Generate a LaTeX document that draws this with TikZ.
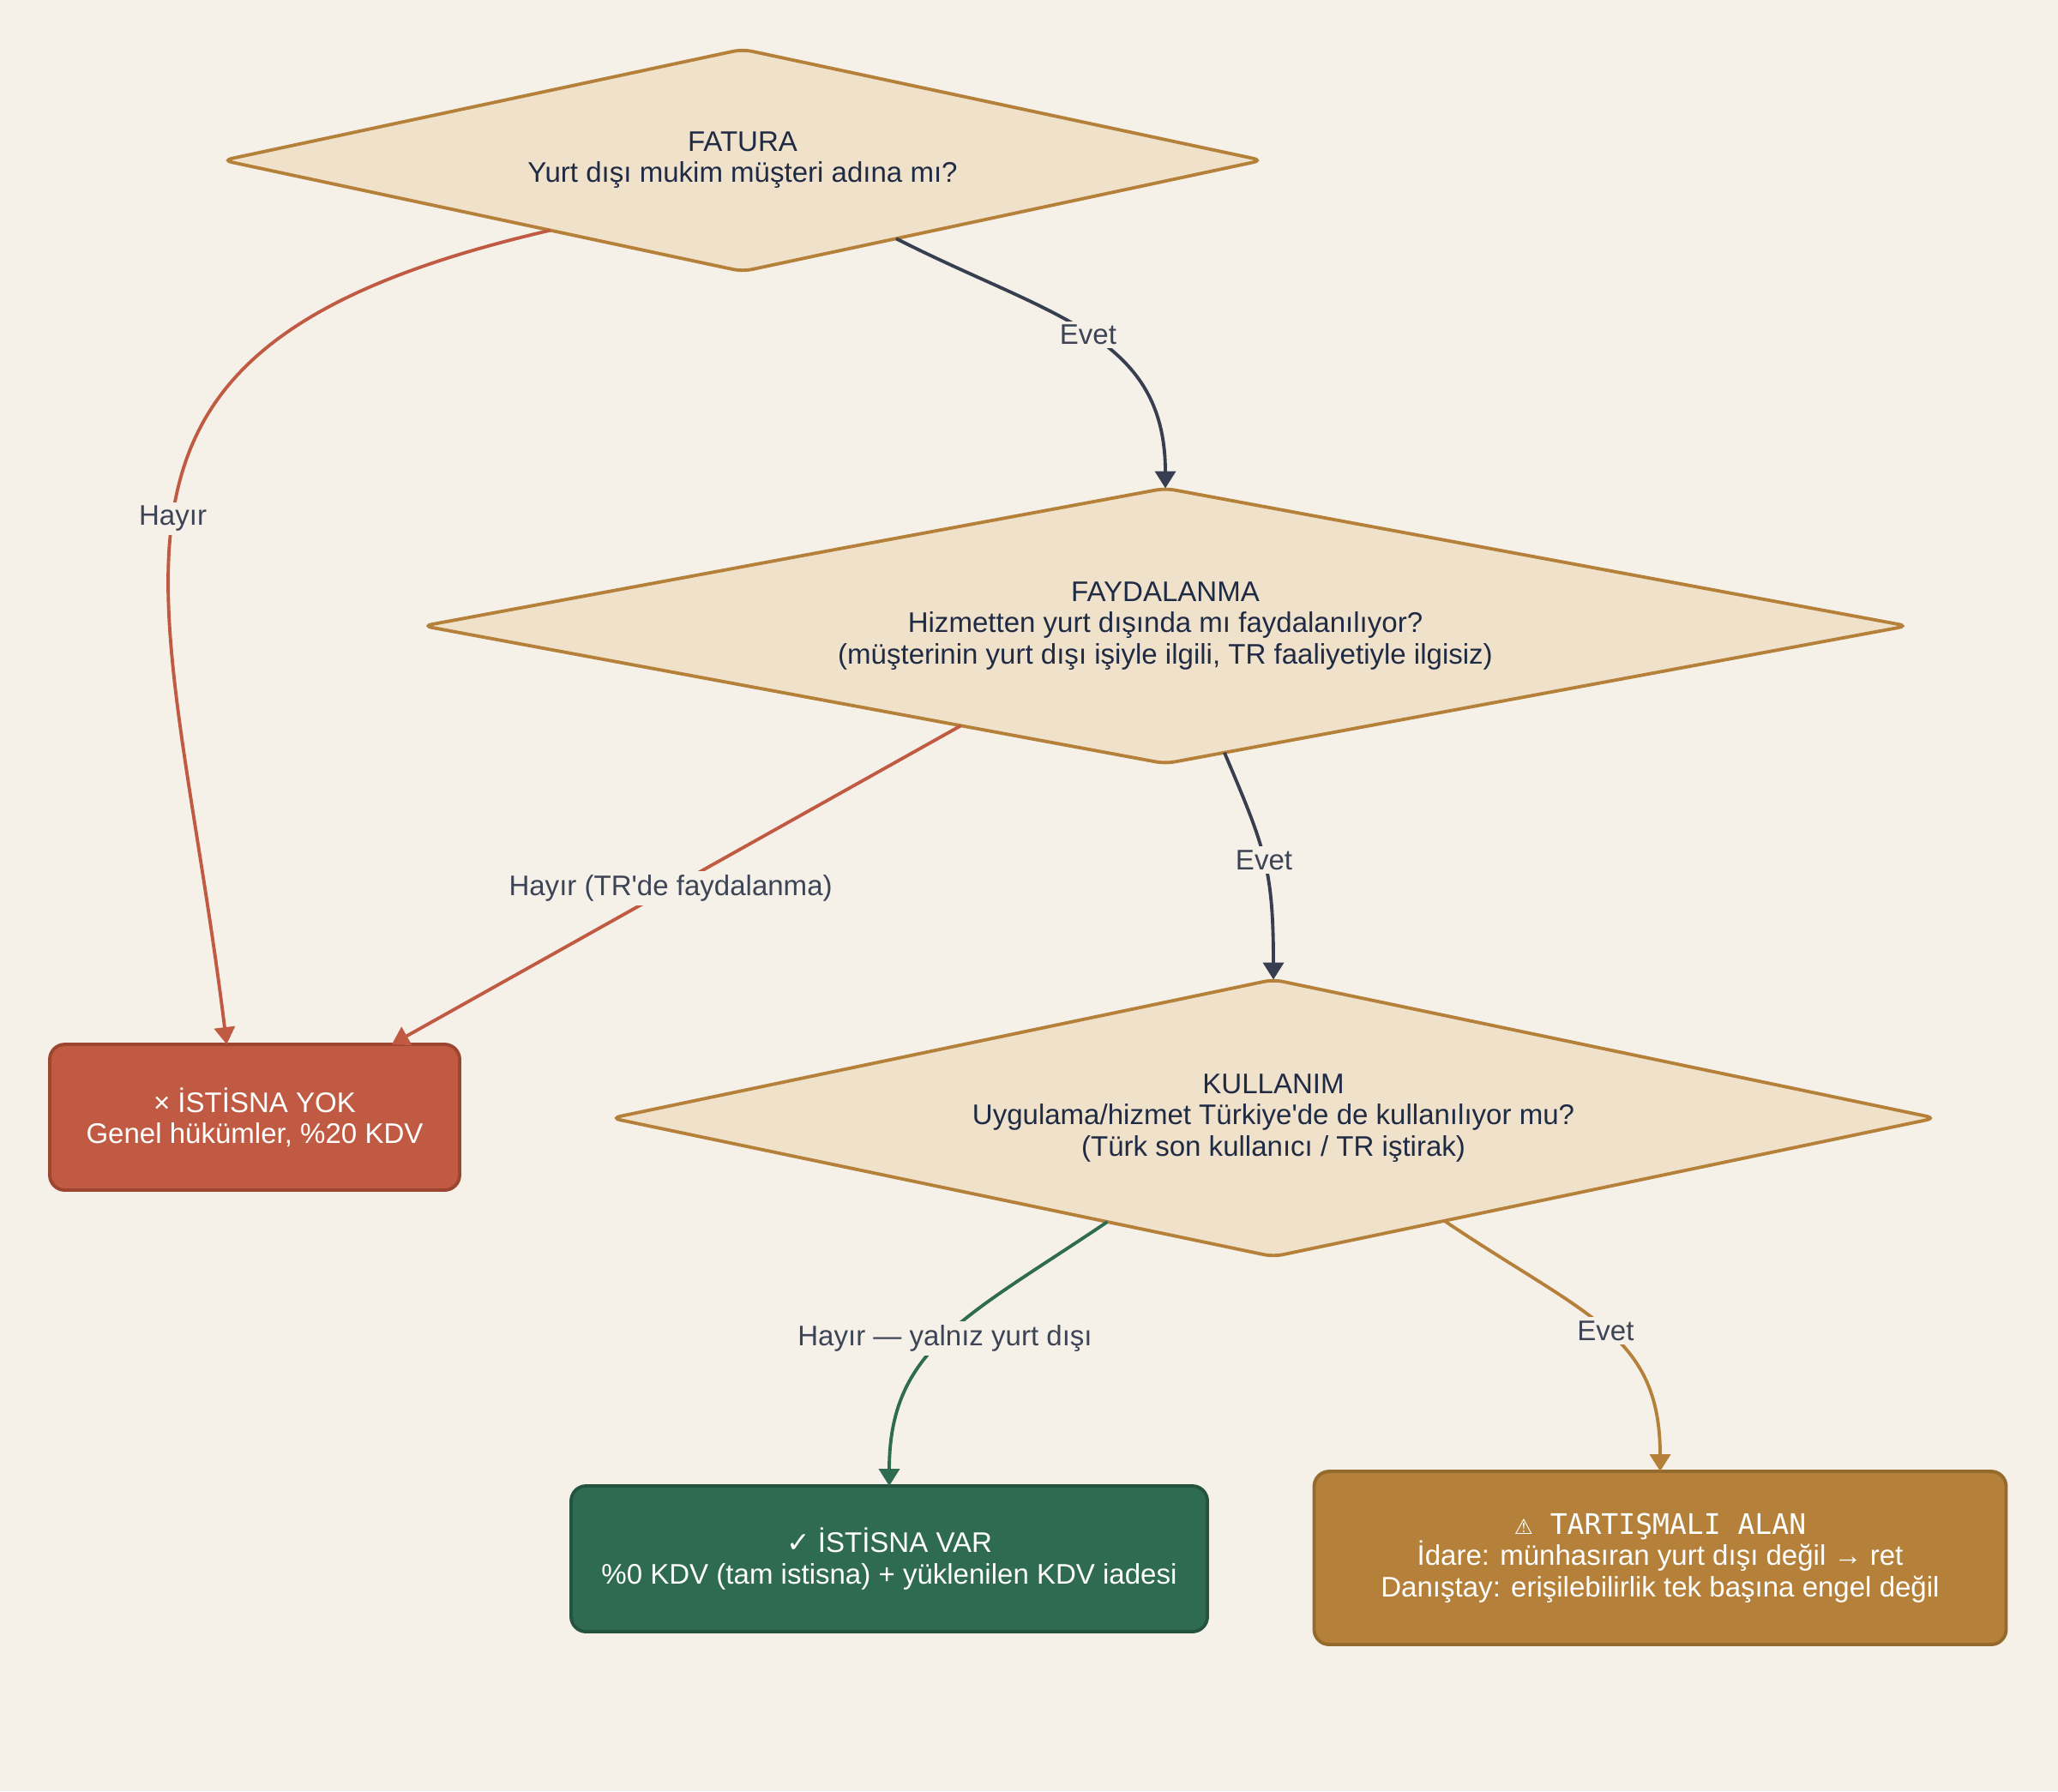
\documentclass[tikz,border=0pt]{standalone}
\usepackage{fontspec}
\setmainfont{Liberation Sans}[Ligatures=TeXOff]
\newfontfamily\dvsans{DejaVu Sans}
\newfontfamily\dvmono{DejaVu Sans Mono}
\usetikzlibrary{arrows.meta, positioning, shapes.geometric}
\definecolor{bg}{HTML}{F5F1E8}
\definecolor{qfill}{HTML}{F0E2CA}
\definecolor{gold}{HTML}{B5813A}
\definecolor{golddark}{HTML}{946A2D}
\definecolor{ink}{HTML}{1F2A44}
\definecolor{slate}{HTML}{363E50}
\definecolor{labelink}{HTML}{3C4455}
\definecolor{rust}{HTML}{C05A42}
\definecolor{rustdark}{HTML}{9C4632}
\definecolor{pine}{HTML}{2E6B50}
\definecolor{pinedark}{HTML}{245440}
\tikzset{
  decision/.style={diamond, aspect=5, draw=gold, fill=qfill, line width=1.1pt, rounded corners=3pt,
    inner sep=0pt, outer sep=0pt, text=ink, align=center, font=\fontsize{9.4}{10.3}\selectfont},
  result/.style={rectangle, rounded corners=5pt, line width=1.1pt, inner sep=0pt, outer sep=0pt,
    text=white, align=center, font=\fontsize{9.4}{10.3}\selectfont},
  arr/.style={-{Triangle[length=2mm, width=2.4mm]}, line width=1.1pt},
}

\begin{document}
\begin{tikzpicture}[
      lbl/.style={fill=bg, text=labelink, inner sep=1.2pt, font=\fontsize{9.4}{10.3}\selectfont}]
    \fill[bg] (0,0) rectangle (24,-20.89);
    \node[decision, minimum width=12.12cm, minimum height=2.59cm] (fatura) at (8.66,-1.87)
      {FATURA\\Yurt dışı mukim müşteri adına mı?};
    \node[decision, minimum width=17.31cm, minimum height=3.21cm] (fayda) at (13.59,-7.30)
      {FAYDALANMA\\Hizmetten yurt dışında mı faydalanılıyor?\\(müşterinin yurt dışı işiyle ilgili, TR faaliyetiyle ilgisiz)};
    \node[decision, minimum width=15.44cm, minimum height=3.23cm] (kullanim) at (14.85,-13.04)
      {KULLANIM\\Uygulama/hizmet Türkiye'de de kullanılıyor mu?\\(Türk son kullanıcı / TR iştirak)};
    \node[result, fill=rust, draw=rustdark, minimum width=4.78cm, minimum height=1.70cm] (yok) at (2.97,-13.03)
      {× İSTİSNA YOK\\Genel hükümler, \%20 KDV};
    \node[result, fill=pine, draw=pinedark, minimum width=7.42cm, minimum height=1.70cm] (var) at (10.37,-18.18)
      {{\dvsans ✓} İSTİSNA VAR\\\%0 KDV (tam istisna) + yüklenilen KDV iadesi};
    \node[result, fill=gold, draw=golddark, minimum width=8.07cm, minimum height=2.02cm] (tart) at (19.36,-18.17)
      {{\dvmono{\dvsans\fontsize{7}{7}\selectfont ⚠} TARTIŞMALI ALAN}\\İdare: münhasıran yurt dışı değil → ret\\Danıştay: erişilebilirlik tek başına engel değil};
    \draw[arr, slate] (fatura.-27.5) .. controls +(-27:2) and +(90:1.8) .. (fayda.north)
      node[lbl, pos=0.5] {Evet};
    \draw[arr, rust] (fatura.200.4) .. controls +(193:6.1) and +(97:5.6) .. (yok.111.8)
      node[lbl, pos=0.52] {Hayır};
    \draw[arr, rust] (fayda.206.1) -- (yok.28.1)
      node[lbl, pos=0.51] {Hayır (TR'de faydalanma)};
    \draw[arr, slate] (fayda.-65.7) .. controls +(-67:1.2) and +(90:1.3) .. (kullanim.north)
      node[lbl, pos=0.5] {Evet};
    \draw[arr, pine] (kullanim.212.6) .. controls +(214:2) and +(90:1.6) .. (var.north)
      node[lbl, pos=0.5] {Hayır — yalnız yurt dışı};
    \draw[arr, gold] (kullanim.-31.6) .. controls +(-34:2) and +(90:1.6) .. (tart.north)
      node[lbl, pos=0.5] {Evet};
\end{tikzpicture}
\end{document}
